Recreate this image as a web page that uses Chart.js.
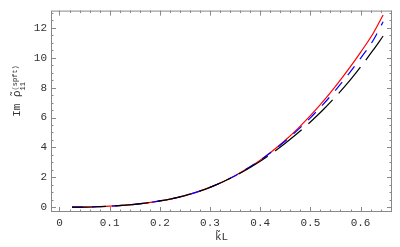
<!DOCTYPE html>
<html>
<head>
<meta charset="utf-8">
<script src="https://cdn.jsdelivr.net/npm/chart.js@4"></script>
<style>
  html, body { margin: 0; padding: 0; background: #fff; }
  #wrap { width: 400px; height: 247px; }
</style>
</head>
<body>
<div id="wrap"><canvas id="chart" width="400" height="247"></canvas></div>
<script>
// values
const kL = [0.025, 0.05, 0.075, 0.1, 0.125, 0.15, 0.175, 0.2, 0.225, 0.25, 0.275, 0.3, 0.325,
            0.35, 0.375, 0.4, 0.425, 0.45, 0.475, 0.5, 0.525, 0.55, 0.575, 0.6, 0.625, 0.645];
const imRed   = [0.0, 0.01, 0.03, 0.07, 0.12, 0.19, 0.29, 0.42, 0.58, 0.78, 1.03, 1.33, 1.69,
                 2.11, 2.6, 3.15, 3.78, 4.48, 5.26, 6.12, 7.06, 8.08, 9.18, 10.36, 11.62, 12.85];
const imBlue  = [0.0, 0.01, 0.03, 0.07, 0.12, 0.19, 0.29, 0.42, 0.58, 0.78, 1.03, 1.33, 1.69,
                 2.11, 2.6, 3.15, 3.76, 4.43, 5.17, 5.98, 6.86, 7.82, 8.85, 9.96, 11.15, 12.4];
const imBlack = [0.0, 0.01, 0.03, 0.07, 0.12, 0.19, 0.29, 0.42, 0.58, 0.78, 1.03, 1.33, 1.69,
                 2.1, 2.56, 3.08, 3.65, 4.28, 4.96, 5.7, 6.5, 7.38, 8.33, 9.38, 10.5, 11.45];
const xTicks = [0, 0.1, 0.2, 0.3, 0.4, 0.5, 0.6];
const yTicks = [0, 2, 4, 6, 8, 10, 12];

const monoFont = '"Liberation Mono", "DejaVu Sans Mono", monospace';

function toPoints(ys) {
    return ys.map((y, i) => ({ x: kL[i], y: y }));
}

// box frame with inward ticks on all four sides
const framePlugin = {
    id: 'frame',
    afterDatasetsDraw(chart) {
        const { ctx, chartArea: a, scales: { x, y } } = chart;
        ctx.save();
        ctx.strokeStyle = '#888';
        ctx.lineWidth = 1;
        ctx.strokeRect(a.left + 0.5, a.top + 0.5, a.right - a.left - 1, a.bottom - a.top - 1);
        ctx.beginPath();
        for (let i = 0; i <= 33; i++) {
            const px = Math.round(x.getPixelForValue(i * 0.02)) + 0.5;
            const len = i % 5 === 0 ? 5 : 2.5;
            ctx.moveTo(px, a.bottom); ctx.lineTo(px, a.bottom - len);
            ctx.moveTo(px, a.top); ctx.lineTo(px, a.top + len);
        }
        for (let i = 0; i <= 26; i++) {
            const py = Math.round(y.getPixelForValue(i * 0.5)) + 0.5;
            const len = i % 4 === 0 ? 5 : 2.5;
            ctx.moveTo(a.left, py); ctx.lineTo(a.left + len, py);
            ctx.moveTo(a.right, py); ctx.lineTo(a.right - len, py);
        }
        ctx.stroke();
        ctx.restore();
    }
};

// y axis title with sub- and superscript
const yTitlePlugin = {
    id: 'ytitle',
    afterDraw(chart) {
        const ctx = chart.ctx;
        const main = '11px ' + monoFont;
        const small = '7px ' + monoFont;
        ctx.save();
        ctx.fillStyle = '#333';
        ctx.textBaseline = 'alphabetic';
        ctx.font = main;
        const wIm = ctx.measureText('Im ').width;
        const wRho = ctx.measureText('ρ̃').width;
        ctx.font = small;
        const wSub = ctx.measureText('11').width;
        const wSup = ctx.measureText('(spft)').width;
        const total = wIm + wRho + Math.max(wSub, wSup);
        ctx.translate(20, 91);
        ctx.rotate(-Math.PI / 2);
        let u = -total / 2;
        ctx.font = main;
        ctx.fillText('Im ', u, 0);
        u += wIm;
        ctx.fillText('ρ̃', u, 0);
        u += wRho;
        ctx.font = small;
        ctx.fillText('11', u, 5);
        ctx.fillText('(spft)', u, -3);
        ctx.restore();
    }
};

const ctx = document.getElementById('chart').getContext('2d');
const chart = new Chart(ctx, {
    type: 'line',
    data: {
        datasets: [
            { label: 'black', data: toPoints(imBlack), borderColor: '#000', borderWidth: 1.2,
              borderDash: [34, 9], pointRadius: 0, cubicInterpolationMode: 'monotone', order: 0 },
            { label: 'blue', data: toPoints(imBlue), borderColor: '#0000ff', borderWidth: 1.2,
              borderDash: [11, 9], pointRadius: 0, cubicInterpolationMode: 'monotone', order: 1 },
            { label: 'red', data: toPoints(imRed), borderColor: '#ff0000', borderWidth: 1.2,
              pointRadius: 0, cubicInterpolationMode: 'monotone', order: 2 },
        ],
    },
    options: {
        responsive: false,
        animation: false,
        devicePixelRatio: 1,
        layout: { padding: { top: 1, right: 8, left: 0, bottom: 0 } },
        plugins: { legend: { display: false }, tooltip: { enabled: false } },
        scales: {
            x: {
                type: 'linear',
                min: -0.0169,
                max: 0.6627,
                afterBuildTicks: s => { s.ticks = xTicks.map(v => ({ value: v })); },
                afterFit: s => { s.height = 35; },
                grid: { display: false, drawTicks: false },
                border: { display: false },
                ticks: { font: { family: monoFont, size: 11 }, color: '#333', padding: 4, maxRotation: 0,
                         callback: v => String(v) },
                title: { display: true, text: 'k̃L', color: '#333', font: { family: monoFont, size: 11 },
                         padding: { top: 0, bottom: 3 } },
            },
            y: {
                min: -0.32,
                max: 13.15,
                afterBuildTicks: s => { s.ticks = yTicks.map(v => ({ value: v })); },
                afterFit: s => { s.width = 51; },
                grid: { display: false, drawTicks: false },
                border: { display: false },
                ticks: { font: { family: monoFont, size: 11 }, color: '#333', padding: 4,
                         callback: v => String(v) },
            },
        },
    },
    plugins: [framePlugin, yTitlePlugin],
});
</script>
</body>
</html>
